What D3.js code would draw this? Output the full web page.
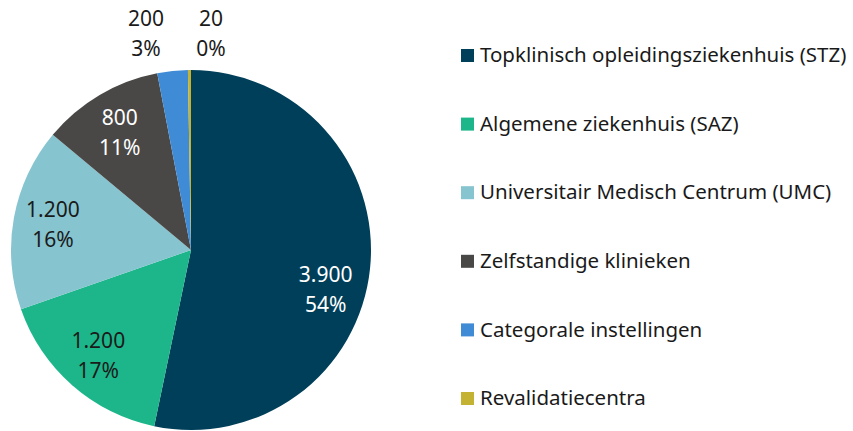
<!DOCTYPE html>
<html>
<head>
<meta charset="utf-8">
<script src="https://cdn.jsdelivr.net/npm/d3@7"></script>
<style>
  body { margin: 0; background: #fff; }
  svg { display: block; }
</style>
</head>
<body>
<svg id="chart" width="853" height="431"></svg>
<script>
// data
var categories = ["Topklinisch opleidingsziekenhuis (STZ)", "Algemene ziekenhuis (SAZ)",
  "Universitair Medisch Centrum (UMC)", "Zelfstandige klinieken",
  "Categorale instellingen", "Revalidatiecentra"];
var values = [3900, 1200, 1200, 800, 200, 20];
var valueLabels = ["3.900", "1.200", "1.200", "800", "200", "20"];
var pctLabels = ["54%", "17%", "16%", "11%", "3%", "0%"];
var colors = ["#003f5a", "#1cb68a", "#86c4cf", "#4a4846", "#3f8bd5", "#c4b232"];
var labelColors = ["#fff", "#1a1a1a", "#1a1a1a", "#fff", "#1a1a1a", "#1a1a1a"];

var svg = d3.select("#chart"),
    cx = 191, cy = 250, r = 180;

var g = svg.append("g").attr("transform", "translate(" + cx + "," + cy + ")");

var pie = d3.pie().sort(null).value(function(d) { return d; });
var arcs = pie(values);

var arc = d3.arc().innerRadius(0).outerRadius(r);
var labelArc = d3.arc().innerRadius(r * 0.78).outerRadius(r * 0.78);
var outArc = d3.arc().innerRadius(r * 1.2).outerRadius(r * 1.2);

g.selectAll("path.slice")
  .data(arcs).enter().append("path")
    .attr("class", "slice")
    .attr("d", arc)
    .attr("fill", function(d, i) { return colors[i]; });

var lab = g.selectAll("g.lab")
  .data(arcs).enter().append("g")
    .attr("class", "lab")
    .attr("transform", function(d, i) {
      var p;
      if (d.endAngle - d.startAngle < 0.3) {
        // small slices get their label above the pie, spread apart
        p = outArc.centroid(d);
        p[0] = (i === 4 ? -45 : 20);
        p[1] = -r - 36;
      } else {
        p = labelArc.centroid(d);
        if (i === 0) { p[1] += 25; p[0] -= 5; }
        if (i === 3) { p[1] += 4; }
      }
      return "translate(" + p + ")";
    })
    .attr("font-family", "'Noto Sans', sans-serif")
    .attr("font-size", 21)
    .attr("text-anchor", "middle");

lab.append("text")
  .attr("y", -15).attr("dy", "0.35em")
  .attr("fill", function(d, i) { return labelColors[i]; })
  .text(function(d, i) { return valueLabels[i]; });
lab.append("text")
  .attr("y", 15).attr("dy", "0.35em")
  .attr("fill", function(d, i) { return labelColors[i]; })
  .text(function(d, i) { return pctLabels[i]; });

// legend
var ly = d3.scalePoint().domain(categories).range([55, 398]);

var legend = svg.append("g")
  .attr("font-family", "'Noto Sans', sans-serif")
  .attr("font-size", 20.5)
  .selectAll("g").data(categories).enter().append("g")
    .attr("transform", function(d) { return "translate(461," + ly(d) + ")"; });

legend.append("rect")
  .attr("x", 0).attr("y", -6)
  .attr("width", 13).attr("height", 13)
  .attr("fill", function(d, i) { return colors[i]; });

legend.append("text")
  .attr("x", 19).attr("dy", "0.35em")
  .attr("fill", "#1a1a1a")
  .text(function(d) { return d; });
</script>
</body>
</html>
